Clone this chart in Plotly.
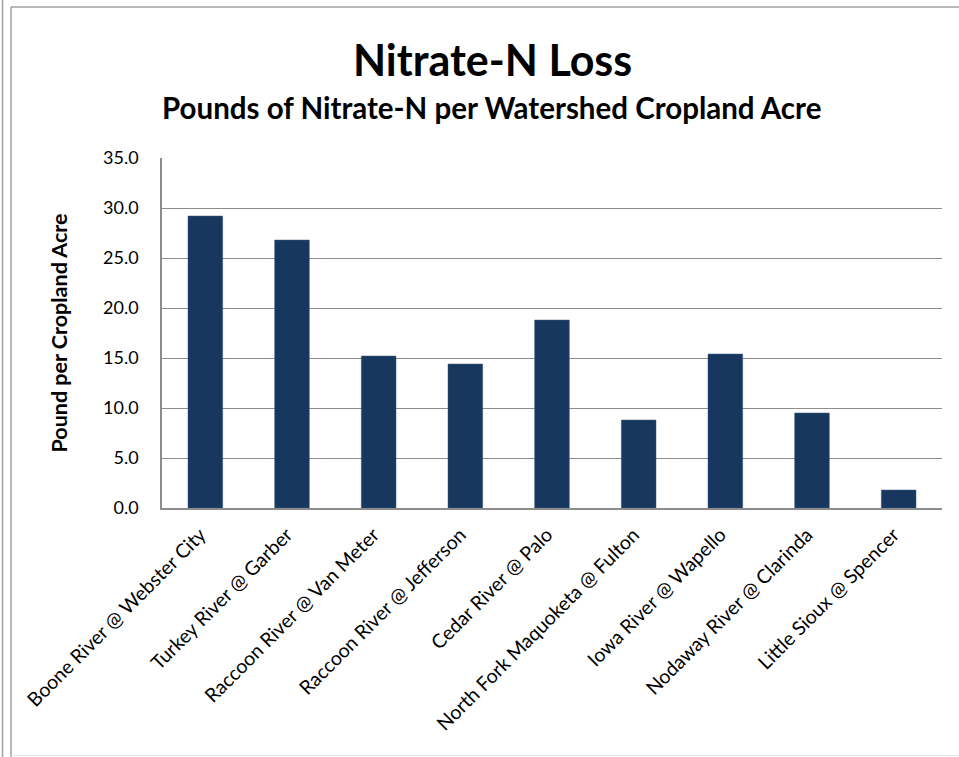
import plotly.graph_objects as go

categories = [
    "Boone River @ Webster City",
    "Turkey River @ Garber",
    "Raccoon River @ Van Meter",
    "Raccoon River @ Jefferson",
    "Cedar River @ Palo",
    "North Fork Maquoketa @ Fulton",
    "Iowa River @ Wapello",
    "Nodaway River @ Clarinda",
    "Little Sioux @ Spencer",
]
values = [29.2, 26.8, 15.2, 14.4, 18.8, 8.8, 15.4, 9.5, 1.8]
y_ticks = [0, 5, 10, 15, 20, 25, 30, 35]

W, H = 959, 757
L, R, T, B = 162, 942, 158, 508

def px(x):
    return (x - L) / (R - L)

def py(y):
    return (B - y) / (B - T)

FONT = "Lato"
BAR = "#17375E"
GRID = "#8C8C8C"

fig = go.Figure(go.Bar(
    x=categories, y=values, marker=dict(color=BAR, line=dict(color="#3A5A80", width=0.5)),
))

fig.update_layout(
    width=W, height=H,
    margin=dict(l=L, r=W - R, t=T, b=H - B, pad=0),
    plot_bgcolor="white", paper_bgcolor="white",
    bargap=0.6,
    showlegend=False,
    font=dict(family=FONT, color="black"),
    xaxis=dict(
        tickangle=-45, tickfont=dict(size=19.5, family=FONT),
        showline=True, linecolor=GRID, linewidth=1.5,
        ticks="", showgrid=False, ticklabelstandoff=6, ticklabelshift=-5,
    ),
    yaxis=dict(
        range=[0, 35], tickvals=y_ticks, tickformat=".1f",
        tickfont=dict(size=18, family=FONT),
        showline=True, linecolor=GRID, linewidth=1.5,
        showgrid=True, gridcolor=GRID, gridwidth=1,
        ticks="", ticklen=0, zeroline=False, ticklabelstandoff=18,
        title=dict(text="<b>Pound per Cropland Acre</b>", font=dict(size=21.5, family=FONT), standoff=30),
    ),
    annotations=[
        dict(text="<b>Nitrate-N Loss</b>", x=px(492), y=py(60), xref="paper", yref="paper",
             showarrow=False, font=dict(size=43, family=FONT), xanchor="center", yanchor="middle"),
        dict(text="<b>Pounds of Nitrate-N per Watershed Cropland Acre</b>", x=px(491), y=py(107),
             xref="paper", yref="paper", showarrow=False, font=dict(size=29.5, family=FONT),
             xanchor="center", yanchor="middle"),
    ],
    shapes=[
        dict(type="line", xref="paper", yref="paper", x0=px(2.5), x1=px(2.5), y0=py(0), y1=py(757),
             line=dict(color="#A0A0A0", width=1.5)),
        dict(type="line", xref="paper", yref="paper", x0=px(11), x1=px(11), y0=py(7), y1=py(757),
             line=dict(color="#A0A0A0", width=1.5)),
        dict(type="line", xref="paper", yref="paper", x0=px(11), x1=px(959), y0=py(7), y1=py(7),
             line=dict(color="#A0A0A0", width=1.5)),
        dict(type="line", xref="paper", yref="paper", x0=px(11), x1=px(959), y0=py(755.5), y1=py(755.5),
             line=dict(color="#E8E8E8", width=1)),
    ],
)

fig.write_html("out.html", config={"displayModeBar": False},
               post_script="document.body.style.margin='0px';")
